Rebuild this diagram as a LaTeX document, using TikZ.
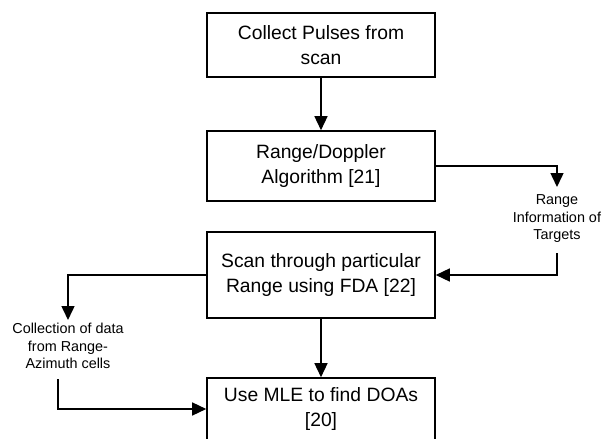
\documentclass[tikz,border=0pt]{standalone}
\usepackage{fontspec}
\setmainfont{Liberation Sans}
\usetikzlibrary{arrows.meta}
\begin{document}
\begin{tikzpicture}[x=1pt,y=1pt,
  stepbox/.style={draw,line width=1.6pt,minimum width=228pt,align=center,font=\fontsize{19.3}{24.5}\selectfont,inner sep=0pt},
  lbl/.style={align=center,font=\fontsize{14.4}{17.5}\selectfont,inner sep=0pt},
  conn/.style={line width=1.5pt,-{Triangle[length=14pt,width=13pt]}}]
\clip (0,0) rectangle (606,-439);
\useasboundingbox (0,0) rectangle (606,-439);
\node[stepbox,minimum height=64pt] (top) at (321,-45) {Collect Pulses from\\scan};
\node[stepbox,minimum height=70pt] (rd) at (321,-166) {Range/Doppler\\Algorithm [21]};
\node[stepbox,minimum height=86pt] (scan) at (321,-275) {Scan through particular\\Range using FDA [22]};
\node[stepbox,minimum height=62pt] (bot) at (321,-409) {Use MLE to find DOAs\\{}[20]};
\node[lbl] (lab1) at (557,-219) {Range\\Information of\\Targets};
\node[lbl] (lab2) at (68,-346) {Collection of data\\from Range-\\Azimuth cells};
\coordinate (t1) at (557,-187);
\coordinate (t2) at (557,-253);
\coordinate (c1) at (68,-320);
\coordinate (c2) at (58,-379);
\draw[conn] (top.south) -- (rd.north);
\draw[conn] (rd.east) -| (t1);
\draw[conn] (t2) |- (scan.east);
\draw[conn] (scan.west) -| (c1);
\draw[conn] (c2) |- (bot.west);
\draw[conn] (scan.south) -- (bot.north);
\end{tikzpicture}
\end{document}
